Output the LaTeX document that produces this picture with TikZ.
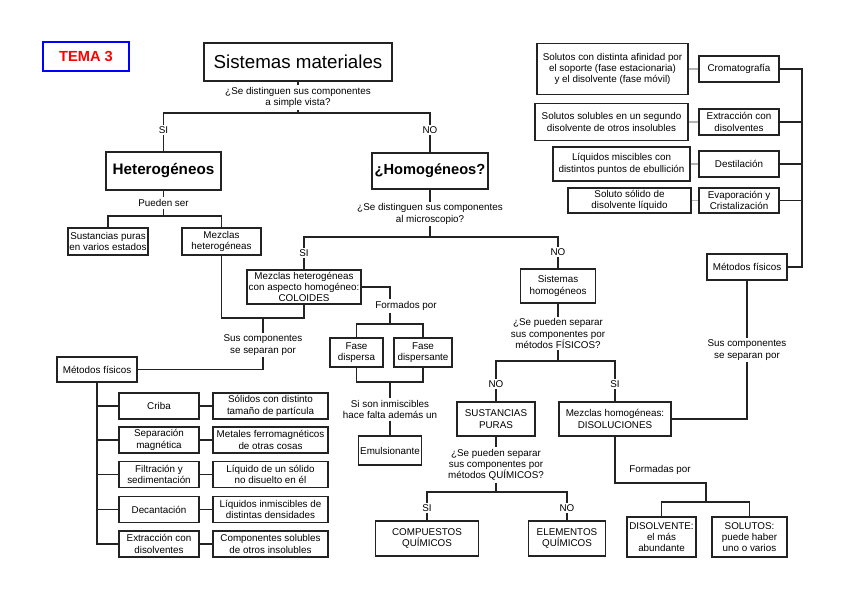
\documentclass[tikz,border=0pt]{standalone}
\usepackage{fontspec}
\setmainfont{Liberation Sans}
\usepackage{tikz}
\definecolor{linea}{RGB}{35,35,35}
\tikzstyle{caja}=[draw=linea, line width=1pt, align=center, inner sep=1pt, font=\fontsize{8.4}{9.6}\selectfont]
\tikzstyle{texto}=[align=center, inner sep=1.5pt, font=\fontsize{8.4}{9.6}\selectfont]
\tikzstyle{titulo}=[draw=linea, line width=1.1pt, inner sep=2pt]
\tikzstyle{union}=[draw=linea, line width=1pt]
\tikzstyle{gris}=[draw=black!30, line width=1pt]
\tikzset{tam/.style 2 args={minimum width=#1*0.03cm, minimum height=#2*0.03cm}}
\newcommand{\caja}{\node[caja]}
\newcommand{\texto}{\node[texto]}

\begin{document}
\begin{tikzpicture}[x=0.03cm, y=-0.03cm]
	\useasboundingbox (0,0) rectangle (848,599);
	% cabecera
	\node[draw=blue, line width=1pt, text=red, font=\fontsize{12.5}{14}\selectfont\bfseries, tam={86}{29}](T) at (86,56.5) {TEMA 3};
	\node[titulo, tam={188}{38}, font=\fontsize{16}{18}\selectfont](SM) at (298,62) {Sistemas materiales};
	\texto(q1) at (298,97.5) {¿Se distinguen sus componentes\\a simple vista?};
	\texto(si1) at (163.5,130) {SI};
	\texto(no1) at (430,130) {NO};
	\coordinate (j1) at (298,113);
	\draw[union] (SM) -- (q1);
	\draw[union] (q1) -- (j1);
	\draw[union] (si1.north) |- (j1) -| (no1.north);
	% heterogeneos
	\node[titulo, tam={115}{38}, font=\fontsize{13}{15}\selectfont\bfseries](HET) at (163.5,171) {Heterogéneos};
	\draw[union] (si1) -- (HET);
	\texto(pu) at (163.5,203) {Pueden ser};
	\draw[union] (HET) -- (pu);
	\coordinate (j2) at (163.5,216);
	\caja[tam={80}{27}](SP) at (108,241.5) {Sustancias puras\\en varios estados};
	\caja[tam={79}{27}](MH) at (221.5,241.5) {Mezclas\\heterogéneas};
	\draw[union] (pu) -- (j2);
	\draw[union] (SP.north) |- (j2) -| (MH.north);
	% homogeneos
	\node[titulo, tam={116}{36}, font=\fontsize{12.5}{14}\selectfont\bfseries](HOM) at (430,171) {¿Homogéneos?};
	\draw[union] (no1) -- (HOM);
	\texto(q2) at (430,214) {¿Se distinguen sus componentes\\al microscopio?};
	\draw[union] (HOM) -- (q2);
	\coordinate (j3) at (430,237);
	\draw[union] (q2) -- (j3);
	\texto(si2) at (304,253) {SI};
	\texto(no2) at (558,252) {NO};
	\draw[union] (si2.north) |- (j3) -| (no2.north);
	% coloides
	\caja[tam={114}{34}](COL) at (304,287) {Mezclas heterogéneas\\con aspecto homogéneo:\\COLOIDES};
	\draw[union] (si2) -- (COL);
	\texto(fp) at (406,306) {Formados por};
	\coordinate (j4) at (390,324);
	\draw[union] (COL.east) -| (fp.north -| j4);
	\draw[union] (fp.south -| j4) -- (j4);
	\caja[tam={53}{29}](FD) at (356.5,352.5) {Fase\\dispersa};
	\caja[tam={58}{29}](FT) at (423,352.5) {Fase\\dispersante};
	\draw[union] (FD.north) |- (j4) -| (FT.north);
	\coordinate (j5) at (390,382);
	\draw[union] (FD.south) |- (j5) -| (FT.south);
	\texto(inm) at (390,409.5) {Si son inmiscibles\\hace falta además un};
	\draw[union] (j5) -- (inm);
	\caja[tam={63}{29}](EM) at (390,450.5) {Emulsionante};
	\draw[union] (inm) -- (EM);
	% metodos fisicos (mezclas heterogeneas)
	\coordinate (j6) at (263,318);
	\draw[union] (MH.south) |- (j6) -| (COL.south);
	\texto(sc1) at (263,345) {Sus componentes\\se separan por};
	\draw[union] (j6) -- (sc1);
	\caja[tam={80}{25}](MF1) at (97,369.5) {Métodos físicos};
	\draw[union] (sc1.south) |- (MF1.east);
	\caja[tam={80}{26}](m1) at (159,406) {Criba};
	\caja[tam={115}{26}](d1) at (270.5,406) {Sólidos con distinto\\tamaño de partícula};
	\caja[tam={80}{26}](m2) at (159,440) {Separación\\magnética};
	\caja[tam={115}{26}](d2) at (270.5,440) {Metales ferromagnéticos\\de otras cosas};
	\caja[tam={80}{26}](m3) at (159,474.5) {Filtración y\\sedimentación};
	\caja[tam={115}{26}](d3) at (270.5,474.5) {Líquido de un sólido\\no disuelto en él};
	\caja[tam={80}{26}](m4) at (159,509.5) {Decantación};
	\caja[tam={115}{26}](d4) at (270.5,509.5) {Líquidos inmiscibles de\\distintas densidades};
	\caja[tam={80}{26}](m5) at (159,544) {Extracción con\\disolventes};
	\caja[tam={115}{26}](d5) at (270.5,544) {Componentes solubles\\de otros insolubles};
	\draw[union] (MF1.south) |- (m1.west);
	\draw[union] (MF1.south) |- (m2.west);
	\draw[union] (MF1.south) |- (m3.west);
	\draw[union] (MF1.south) |- (m4.west);
	\draw[union] (MF1.south) |- (m5.west);
	\draw[union] (m1) -- (d1);
	\draw[union] (m2) -- (d2);
	\draw[union] (m3) -- (d3);
	\draw[union] (m4) -- (d4);
	\draw[union] (m5) -- (d5);
	% metodos fisicos (disoluciones)
	\caja[tam={151}{51}](rd1) at (612.5,69) {Solutos con distinta afinidad por\\el soporte (fase estacionaria)\\y el disolvente (fase móvil)};
	\caja[tam={80}{26}](r1) at (739,69) {Cromatografía};
	\caja[tam={153}{37}](rd2) at (611.5,122) {Solutos solubles en un segundo\\disolvente de otros insolubles};
	\caja[tam={80}{26}](r2) at (739,122) {Extracción con\\disolventes};
	\caja[tam={137}{34}](rd3) at (621.5,164) {Líquidos miscibles con\\distintos puntos de ebullición};
	\caja[tam={80}{26}](r3) at (739,164) {Destilación};
	\caja[tam={123}{25}](rd4) at (629.5,200.5) {Soluto sólido de\\disolvente líquido};
	\caja[tam={80}{25}](r4) at (739,200.5) {Evaporación y\\Cristalización};
	\draw[gris] (rd1) -- (r1);
	\draw[gris] (rd2) -- (r2);
	\draw[gris] (rd3) -- (r3);
	\draw[gris] (rd4) -- (r4);
	\caja[tam={80}{26}](MF2) at (747,267) {Métodos físicos};
	\coordinate (tr) at (802,267);
	\draw[union] (r1.east) -| (tr) -- (MF2.east);
	\draw[union] (r2.east) -- (r2.east -| tr);
	\draw[union] (r3.east) -- (r3.east -| tr);
	\draw[union] (r4.east) -- (r4.east -| tr);
	\texto(sc2) at (747,350) {Sus componentes\\se separan por};
	\draw[union] (MF2) -- (sc2);
	% sistemas homogeneos
	\caja[tam={75}{34}](SH) at (558,286) {Sistemas\\homogéneos};
	\draw[union] (no2) -- (SH);
	\texto(q3) at (558,333.5) {¿Se pueden separar\\sus componentes por\\métodos FÍSICOS?};
	\draw[union] (SH) -- (q3);
	\coordinate (j7) at (558,361);
	\draw[union] (q3) -- (j7);
	\texto(no3) at (496,384) {NO};
	\texto(si3) at (615,384) {SI};
	\draw[union] (no3.north) |- (j7) -| (si3.north);
	\caja[tam={78}{34}](SUS) at (496,419) {SUSTANCIAS\\PURAS};
	\caja[tam={112}{34}](DIS) at (615,419) {Mezclas homogéneas:\\DISOLUCIONES};
	\draw[union] (no3) -- (SUS);
	\draw[union] (si3) -- (DIS);
	\draw[union] (sc2.south) |- (DIS.east);
	% sustancias puras
	\texto(q4) at (496,465) {¿Se pueden separar\\sus componentes por\\métodos QUÍMICOS?};
	\draw[union] (SUS) -- (q4);
	\coordinate (j8) at (496,492);
	\draw[union] (q4) -- (j8);
	\texto(si4) at (427,508) {SI};
	\texto(no4) at (567,508) {NO};
	\draw[union] (si4.north) |- (j8) -| (no4.north);
	\caja[tam={103}{35}](CQ) at (427,538.5) {COMPUESTOS\\QUÍMICOS};
	\caja[tam={77}{35}](EQ) at (567,538.5) {ELEMENTOS\\QUÍMICOS};
	\draw[union] (si4) -- (CQ);
	\draw[union] (no4) -- (EQ);
	% disoluciones
	\texto(fa) at (660,470) {Formadas por};
	\coordinate (k9) at (706,483);
	\coordinate (j9) at (706,502);
	\draw[union] (DIS.south) |- (k9) -- (j9);
	\caja[tam={69}{40}](DV) at (661.5,537) {DISOLVENTE:\\el más\\abundante};
	\caja[tam={75}{40}](SO) at (749.5,537) {SOLUTOS:\\puede haber\\uno o varios};
	\draw[union] (DV.north) |- (j9) -| (SO.north);
\end{tikzpicture}
\end{document}
